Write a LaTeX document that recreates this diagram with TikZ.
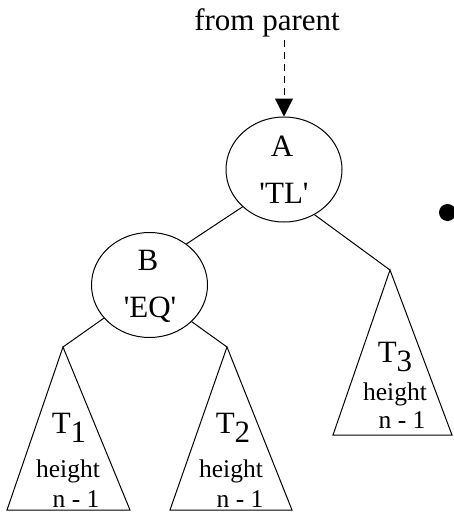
\documentclass[tikz,border=0pt]{standalone}
\usepackage{fontspec}
\setmainfont{Liberation Serif}
\usetikzlibrary{shapes.geometric,arrows.meta}

\tikzset{
  treenode/.style={draw,ellipse,minimum width=116pt,minimum height=105pt,inner sep=0pt},
  bigtext/.style={font=\fontsize{31}{34}\selectfont,inner sep=0pt,anchor=base},
  smalltext/.style={font=\fontsize{25.5}{28}\selectfont,inner sep=0pt,anchor=base},
  subtree/.style={line join=miter},
}
\newcommand{\treename}[1]{T\raisebox{-9pt}{#1}}
\newcommand{\q}{\textquotesingle}

\begin{document}
\begin{tikzpicture}[x=1pt,y=-1pt,line width=1pt,>={Triangle[length=18pt,width=18pt]}]
\useasboundingbox (0,0) rectangle (453,514);
% the two inner nodes
\node[treenode] (A) at (284,169.5) {};
\node[treenode] (B) at (149.5,285) {};
\node[bigtext] (Aname) at (282,156) {A};
\node[bigtext] (Atag) at (284,203) {\q TL\q};
\node[bigtext] (Bname) at (148,270) {B};
\node[bigtext] (Btag) at (150,317) {\q EQ\q};

% link from the parent
\node[bigtext] (parent) at (267,30) {from parent};
\coordinate (src) at (284,40);
\draw[->,dash pattern=on 7pt off 5pt] (src) -- (A.north);

% the three subtrees
\coordinate (t1top) at (63,347);
\coordinate (t2top) at (227,347);
\coordinate (t3top) at (390,270);
\draw[subtree] (t1top) -- (7,510) -- (130,510) -- cycle;
\draw[subtree] (t2top) -- (170,510) -- (292,510) -- cycle;
\draw[subtree] (t3top) -- (333,435) -- (452,435) -- cycle;

\node[bigtext] (T1) at (69,433) {\treename{1}};
\node[smalltext] (h1) at (68,477) {height};
\node[smalltext] (n1) at (76,507) {n - 1};
\node[bigtext] (T2) at (233,433) {\treename{2}};
\node[smalltext] (h2) at (231,477) {height};
\node[smalltext] (n2) at (240,507) {n - 1};
\node[bigtext] (T3) at (395,362) {\treename{3}};
\node[smalltext] (h3) at (395,400) {height};
\node[smalltext] (n3) at (402,428) {n - 1};

% edges
\draw (A.222) -- (B.48);
\draw (A.304) -- (t3top);
\draw (B.216) -- (t1top);
\draw (B.319) -- (t2top);

\fill (447.5,212.5) circle (8.5pt);
\end{tikzpicture}
\end{document}
